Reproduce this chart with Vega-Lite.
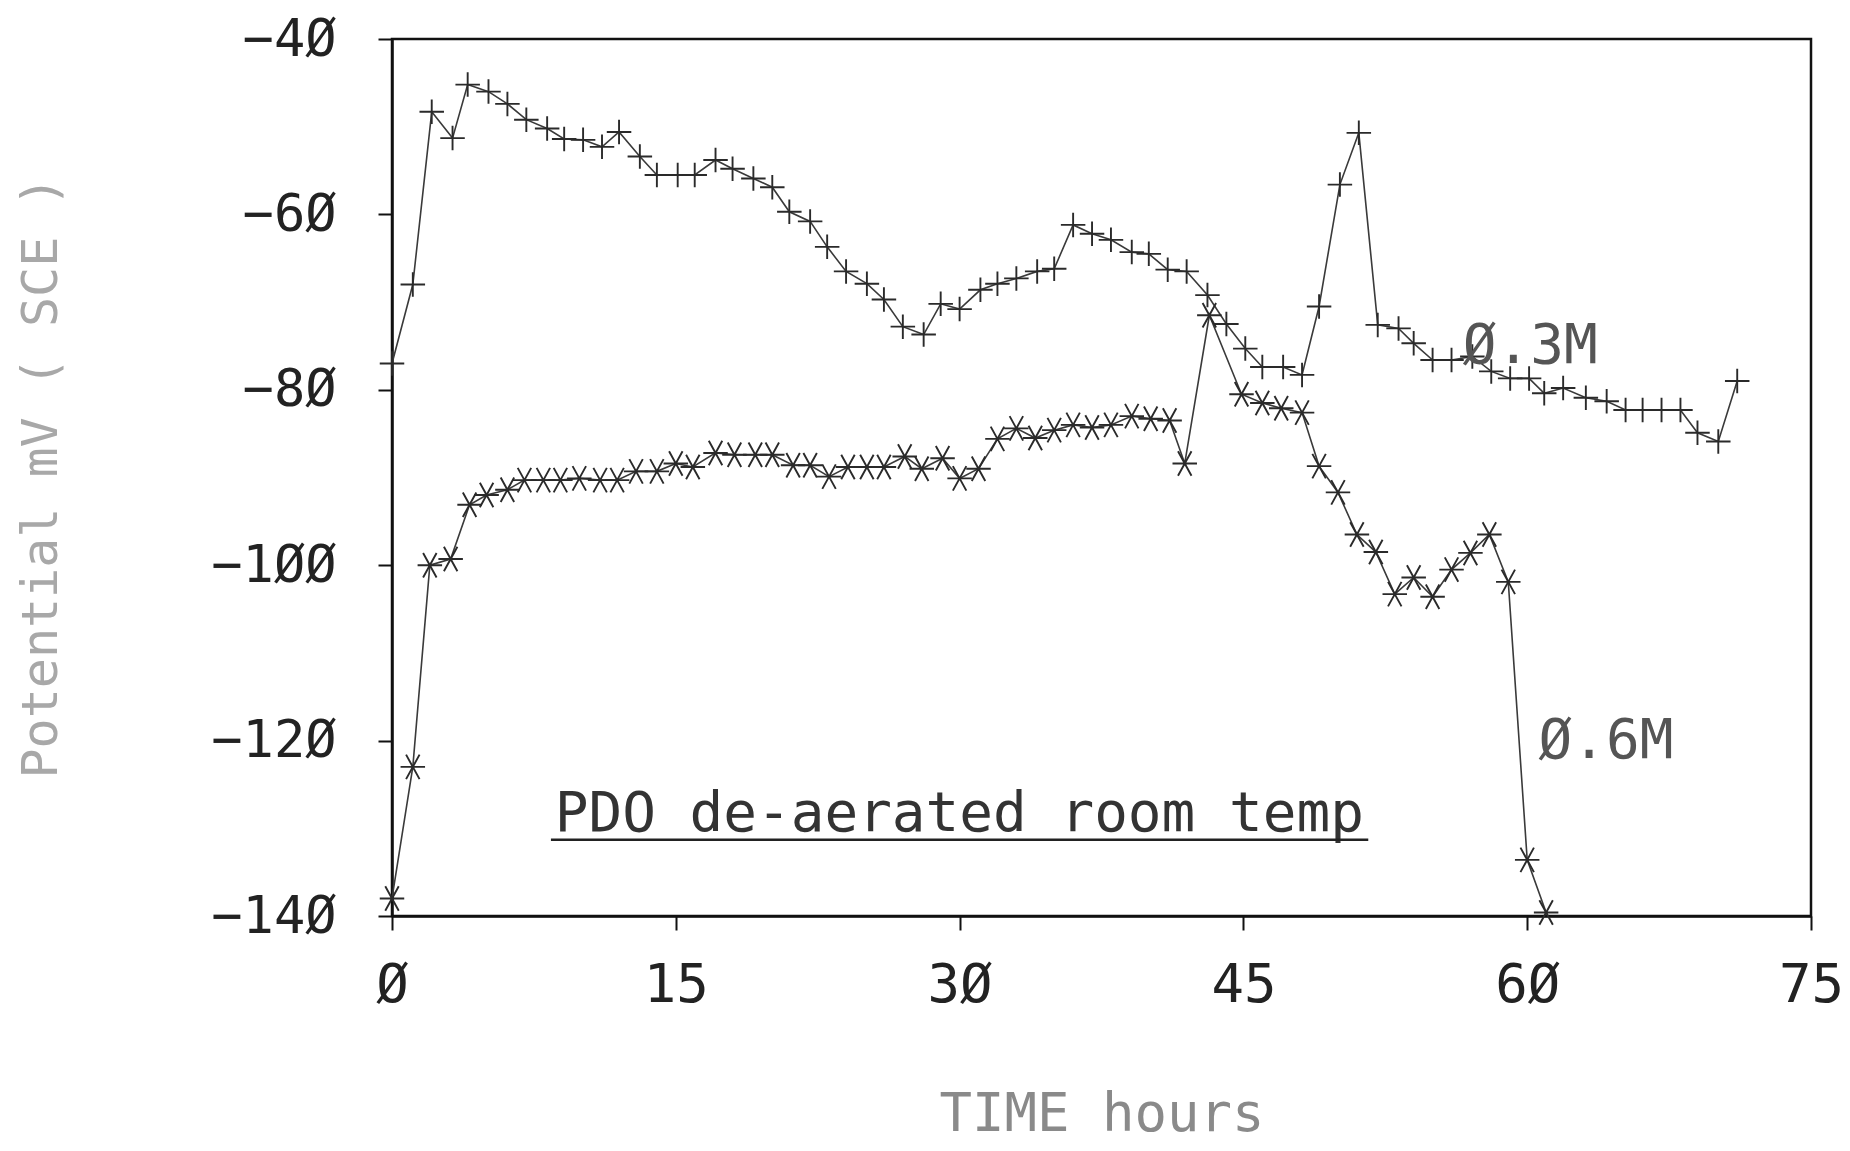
{
  "$schema": "https://vega.github.io/schema/vega-lite/v6.json",
  "width": 1419,
  "height": 877,
  "autosize": {"type": "none"},
  "padding": {"left": 392, "top": 39, "right": 39, "bottom": 235},
  "background": "white",
  "config": {
    "view": {"stroke": "#111", "strokeWidth": 2.5},
    "font": "DejaVu Sans Mono",
    "axis": {"grid": false, "domainColor": "#111", "domainWidth": 2.5, "tickColor": "#111", "tickWidth": 2, "tickSize": 14,
      "labelFont": "DejaVu Sans Mono", "labelColor": "#222", "labelFontWeight": "normal",
      "titleFont": "DejaVu Sans Mono", "titleFontWeight": "normal"}
  },
  "datasets": {
    "series": [
      {"t": 0, "mv": -77, "series": "0.3M"},
      {"t": 1.1, "mv": -68, "series": "0.3M"},
      {"t": 2.1, "mv": -48.3, "series": "0.3M"},
      {"t": 3.2, "mv": -51.3, "series": "0.3M"},
      {"t": 4, "mv": -45.2, "series": "0.3M"},
      {"t": 5.1, "mv": -46, "series": "0.3M"},
      {"t": 6.1, "mv": -47.4, "series": "0.3M"},
      {"t": 7.1, "mv": -49.2, "series": "0.3M"},
      {"t": 8.2, "mv": -50.2, "series": "0.3M"},
      {"t": 9.1, "mv": -51.4, "series": "0.3M"},
      {"t": 10.1, "mv": -51.5, "series": "0.3M"},
      {"t": 11.1, "mv": -52.3, "series": "0.3M"},
      {"t": 12, "mv": -50.6, "series": "0.3M"},
      {"t": 13.1, "mv": -53.4, "series": "0.3M"},
      {"t": 14, "mv": -55.5, "series": "0.3M"},
      {"t": 15.1, "mv": -55.5, "series": "0.3M"},
      {"t": 16, "mv": -55.5, "series": "0.3M"},
      {"t": 17.1, "mv": -53.8, "series": "0.3M"},
      {"t": 18, "mv": -54.8, "series": "0.3M"},
      {"t": 19.1, "mv": -55.9, "series": "0.3M"},
      {"t": 20.1, "mv": -56.9, "series": "0.3M"},
      {"t": 21, "mv": -59.7, "series": "0.3M"},
      {"t": 22.1, "mv": -60.8, "series": "0.3M"},
      {"t": 23, "mv": -63.7, "series": "0.3M"},
      {"t": 24, "mv": -66.5, "series": "0.3M"},
      {"t": 25.1, "mv": -67.9, "series": "0.3M"},
      {"t": 26, "mv": -69.7, "series": "0.3M"},
      {"t": 27, "mv": -72.8, "series": "0.3M"},
      {"t": 28.1, "mv": -73.7, "series": "0.3M"},
      {"t": 29, "mv": -70.2, "series": "0.3M"},
      {"t": 30, "mv": -70.8, "series": "0.3M"},
      {"t": 31.1, "mv": -68.6, "series": "0.3M"},
      {"t": 32, "mv": -67.9, "series": "0.3M"},
      {"t": 33, "mv": -67.3, "series": "0.3M"},
      {"t": 34.1, "mv": -66.5, "series": "0.3M"},
      {"t": 35, "mv": -66.2, "series": "0.3M"},
      {"t": 36, "mv": -61.2, "series": "0.3M"},
      {"t": 37, "mv": -62.2, "series": "0.3M"},
      {"t": 38, "mv": -62.9, "series": "0.3M"},
      {"t": 39.1, "mv": -64.3, "series": "0.3M"},
      {"t": 40, "mv": -64.5, "series": "0.3M"},
      {"t": 41, "mv": -66.3, "series": "0.3M"},
      {"t": 42, "mv": -66.5, "series": "0.3M"},
      {"t": 43.1, "mv": -69.2, "series": "0.3M"},
      {"t": 44.1, "mv": -72.5, "series": "0.3M"},
      {"t": 45.1, "mv": -75.3, "series": "0.3M"},
      {"t": 46, "mv": -77.4, "series": "0.3M"},
      {"t": 47.1, "mv": -77.4, "series": "0.3M"},
      {"t": 48.1, "mv": -78.3, "series": "0.3M"},
      {"t": 49, "mv": -70.5, "series": "0.3M"},
      {"t": 50.1, "mv": -56.6, "series": "0.3M"},
      {"t": 51.1, "mv": -50.7, "series": "0.3M"},
      {"t": 52.1, "mv": -72.6, "series": "0.3M"},
      {"t": 53.2, "mv": -73, "series": "0.3M"},
      {"t": 54, "mv": -74.7, "series": "0.3M"},
      {"t": 55, "mv": -76.6, "series": "0.3M"},
      {"t": 56, "mv": -76.6, "series": "0.3M"},
      {"t": 57.1, "mv": -76.2, "series": "0.3M"},
      {"t": 58.1, "mv": -77.9, "series": "0.3M"},
      {"t": 59.1, "mv": -78.7, "series": "0.3M"},
      {"t": 60.1, "mv": -78.7, "series": "0.3M"},
      {"t": 60.9, "mv": -80.4, "series": "0.3M"},
      {"t": 61.9, "mv": -79.8, "series": "0.3M"},
      {"t": 63.1, "mv": -80.9, "series": "0.3M"},
      {"t": 64.2, "mv": -81.3, "series": "0.3M"},
      {"t": 65.2, "mv": -82.3, "series": "0.3M"},
      {"t": 66.1, "mv": -82.3, "series": "0.3M"},
      {"t": 67.1, "mv": -82.3, "series": "0.3M"},
      {"t": 68.1, "mv": -82.3, "series": "0.3M"},
      {"t": 69, "mv": -84.9, "series": "0.3M"},
      {"t": 70.1, "mv": -85.9, "series": "0.3M"},
      {"t": 71.1, "mv": -79, "series": "0.3M"},
      {"t": 0, "mv": -138, "series": "0.6M"},
      {"t": 1.1, "mv": -123, "series": "0.6M"},
      {"t": 2, "mv": -100, "series": "0.6M"},
      {"t": 3.1, "mv": -99.3, "series": "0.6M"},
      {"t": 4.1, "mv": -93.1, "series": "0.6M"},
      {"t": 5, "mv": -92, "series": "0.6M"},
      {"t": 6.1, "mv": -91.4, "series": "0.6M"},
      {"t": 7, "mv": -90.3, "series": "0.6M"},
      {"t": 8, "mv": -90.3, "series": "0.6M"},
      {"t": 8.9, "mv": -90.3, "series": "0.6M"},
      {"t": 9.9, "mv": -90.1, "series": "0.6M"},
      {"t": 11, "mv": -90.3, "series": "0.6M"},
      {"t": 11.9, "mv": -90.3, "series": "0.6M"},
      {"t": 12.9, "mv": -89.3, "series": "0.6M"},
      {"t": 14, "mv": -89.3, "series": "0.6M"},
      {"t": 15, "mv": -88.4, "series": "0.6M"},
      {"t": 15.9, "mv": -88.8, "series": "0.6M"},
      {"t": 17.1, "mv": -87.2, "series": "0.6M"},
      {"t": 18.1, "mv": -87.4, "series": "0.6M"},
      {"t": 19.2, "mv": -87.4, "series": "0.6M"},
      {"t": 20.1, "mv": -87.4, "series": "0.6M"},
      {"t": 21.2, "mv": -88.6, "series": "0.6M"},
      {"t": 22.1, "mv": -88.6, "series": "0.6M"},
      {"t": 23.1, "mv": -89.9, "series": "0.6M"},
      {"t": 24.1, "mv": -88.8, "series": "0.6M"},
      {"t": 25.1, "mv": -88.8, "series": "0.6M"},
      {"t": 26, "mv": -88.8, "series": "0.6M"},
      {"t": 27.1, "mv": -87.6, "series": "0.6M"},
      {"t": 28, "mv": -89, "series": "0.6M"},
      {"t": 29.1, "mv": -87.8, "series": "0.6M"},
      {"t": 30, "mv": -90.1, "series": "0.6M"},
      {"t": 31, "mv": -89, "series": "0.6M"},
      {"t": 32, "mv": -85.6, "series": "0.6M"},
      {"t": 33, "mv": -84.4, "series": "0.6M"},
      {"t": 34, "mv": -85.5, "series": "0.6M"},
      {"t": 35, "mv": -84.6, "series": "0.6M"},
      {"t": 36, "mv": -84, "series": "0.6M"},
      {"t": 37, "mv": -84.3, "series": "0.6M"},
      {"t": 38, "mv": -84, "series": "0.6M"},
      {"t": 39.1, "mv": -83, "series": "0.6M"},
      {"t": 40.1, "mv": -83.3, "series": "0.6M"},
      {"t": 41.1, "mv": -83.5, "series": "0.6M"},
      {"t": 41.9, "mv": -88.4, "series": "0.6M"},
      {"t": 43.2, "mv": -71.5, "series": "0.6M"},
      {"t": 44.9, "mv": -80.5, "series": "0.6M"},
      {"t": 46, "mv": -81.5, "series": "0.6M"},
      {"t": 47, "mv": -82.1, "series": "0.6M"},
      {"t": 48.1, "mv": -82.6, "series": "0.6M"},
      {"t": 49, "mv": -88.7, "series": "0.6M"},
      {"t": 50, "mv": -91.7, "series": "0.6M"},
      {"t": 51, "mv": -96.5, "series": "0.6M"},
      {"t": 52, "mv": -98.5, "series": "0.6M"},
      {"t": 53, "mv": -103.3, "series": "0.6M"},
      {"t": 54, "mv": -101.4, "series": "0.6M"},
      {"t": 55, "mv": -103.6, "series": "0.6M"},
      {"t": 56, "mv": -100.5, "series": "0.6M"},
      {"t": 57, "mv": -98.6, "series": "0.6M"},
      {"t": 58, "mv": -96.5, "series": "0.6M"},
      {"t": 59, "mv": -101.9, "series": "0.6M"},
      {"t": 60, "mv": -133.6, "series": "0.6M"},
      {"t": 61, "mv": -139.6, "series": "0.6M"}
    ],
    "notes": [
      {"t": 8.6, "mv": -128.4, "text": "PDO de-aerated room temp", "tone": "dark"},
      {"t": 56.6, "mv": -75.0, "text": "Ø.3M", "tone": "mid"},
      {"t": 60.6, "mv": -120.0, "text": "Ø.6M", "tone": "mid"}
    ],
    "underline": [
      {"t1": 8.4, "t2": 51.6, "mv": -131.3}
    ]
  },
  "layer": [
    {
      "data": {"name": "series"},
      "mark": {"type": "line", "strokeWidth": 1.6, "color": "#3a3a3a"},
      "encoding": {
        "x": {"field": "t", "type": "quantitative",
          "scale": {"domain": [0, 75], "nice": false, "zero": false},
          "axis": {"values": [0, 15, 30, 45, 60, 75], "labelExpr": "replace(datum.label, regexp('0', 'g'), 'Ø')",
            "labelFontSize": 54, "labelPadding": 28, "labelColor": "#222", "labelFlush": false, "labelOverlap": false,
            "title": "TIME hours", "titleFontSize": 54, "titleColor": "#8a8a8a", "titleBaseline": "middle", "titleY": 198}},
        "y": {"field": "mv", "type": "quantitative",
          "scale": {"domain": [-140, -40], "nice": false, "zero": false},
          "axis": {"values": [-140, -120, -100, -80, -60, -40], "labelExpr": "replace(datum.label, regexp('0', 'g'), 'Ø')",
            "labelFontSize": 52, "labelPadding": 42, "labelColor": "#222", "labelFlush": false, "labelOverlap": false,
            "title": "Potential mV ( SCE )", "titleFontSize": 50, "titleColor": "#a8a8a8", "titleAngle": -90,
            "titleBaseline": "middle", "titleX": -351, "titleY": 438}},
        "detail": {"field": "series"}
      }
    },
    {
      "data": {"name": "series"},
      "mark": {"type": "point", "filled": false, "strokeWidth": 1.9, "color": "#2a2a2a", "size": 600, "opacity": 1},
      "encoding": {
        "x": {"field": "t", "type": "quantitative"},
        "y": {"field": "mv", "type": "quantitative"},
        "shape": {"field": "series", "type": "nominal",
          "scale": {"domain": ["0.3M", "0.6M"], "range": ["M-1,0L1,0M0,-1L0,1", "M-1,0L1,0M-0.55,-1L0.55,1M-0.55,1L0.55,-1"]},
          "legend": null}
      }
    },
    {
      "data": {"name": "notes"},
      "mark": {"type": "text", "align": "left", "baseline": "middle", "font": "DejaVu Sans Mono", "fontSize": 56},
      "encoding": {
        "x": {"field": "t", "type": "quantitative"},
        "y": {"field": "mv", "type": "quantitative"},
        "text": {"field": "text"},
        "color": {"field": "tone", "type": "nominal", "scale": {"domain": ["dark", "mid"], "range": ["#333333", "#555555"]}, "legend": null}
      }
    },
    {
      "data": {"name": "underline"},
      "mark": {"type": "rule", "strokeWidth": 2.5, "color": "#222"},
      "encoding": {
        "x": {"field": "t1", "type": "quantitative"},
        "x2": {"field": "t2"},
        "y": {"field": "mv", "type": "quantitative"}
      }
    }
  ]
}
